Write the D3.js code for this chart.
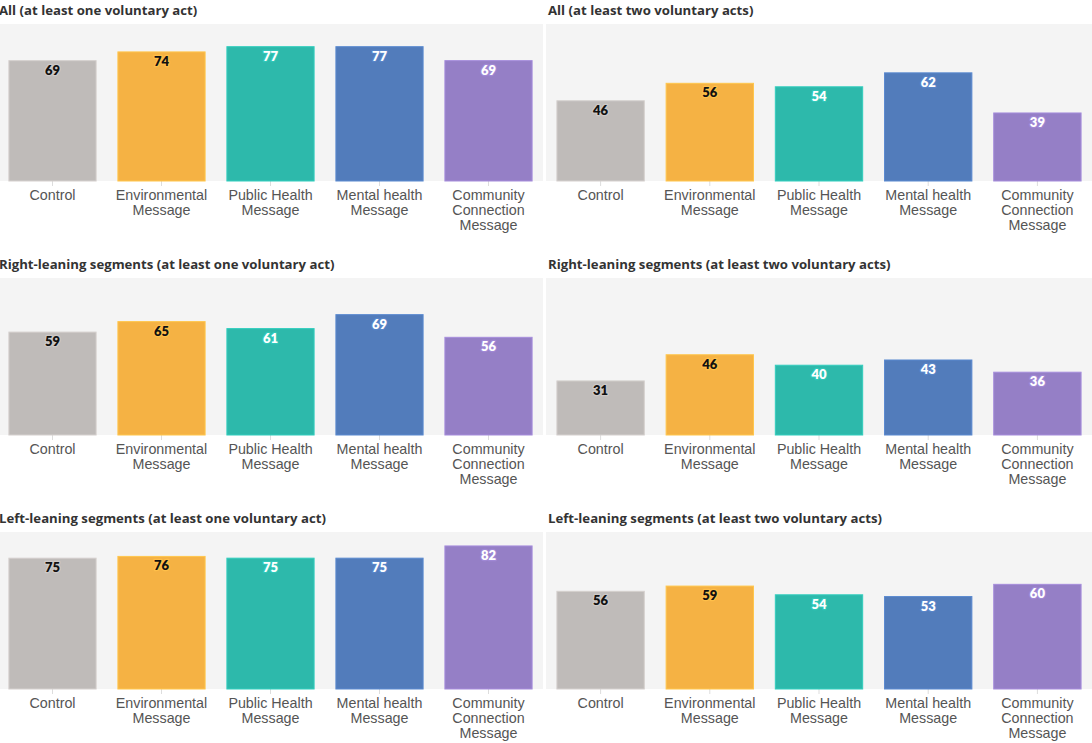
<!DOCTYPE html>
<html><head><meta charset="utf-8">
<script src="https://cdn.jsdelivr.net/npm/d3@7"></script>
<style>
body{margin:0;background:#fff;}
svg{display:block;font-family:Lato,"Open Sans",sans-serif;}
</style></head>
<body>
<svg id="chart" width="1092" height="743"></svg>
<script>
const categories = ["Control","Environmental Message","Public Health Message","Mental health Message","Community Connection Message"];
const categoryLines = [["Control"],["Environmental","Message"],["Public Health","Message"],["Mental health","Message"],["Community","Connection","Message"]];
const colors = ["#bfbbb9","#f5b244","#2db9ab","#527cbb","#957fc6"];
const labelColors = ["#111","#111","#fff","#fff","#fff"];

const titles = [
  "All (at least one voluntary act)",
  "All (at least two voluntary acts)",
  "Right-leaning segments (at least one voluntary act)",
  "Right-leaning segments (at least two voluntary acts)",
  "Left-leaning segments (at least one voluntary act)",
  "Left-leaning segments (at least two voluntary acts)"
];
const allOne = [69,74,77,77,69];
const allTwo = [46,56,54,62,39];
const rightOne = [59,65,61,69,56];
const rightTwo = [31,46,40,43,36];
const leftOne = [75,76,75,75,82];
const leftTwo = [56,59,54,53,60];
const seriesList = [allOne, allTwo, rightOne, rightTwo, leftOne, leftTwo];

const svg = d3.select("#chart");
const colRanges = [[-2,543],[546,1092]];
const rowTop = [24,278,532];
const plotH = 157;

seriesList.forEach((vals,i)=>{
  const col = i%2, row = Math.floor(i/2);
  const [x0,x1] = colRanges[col];
  const top = rowTop[row], base = top+plotH;
  const x = d3.scaleBand().domain(categories).range([x0,x1]).paddingInner(0.2).paddingOuter(0.1);
  const y = d3.scaleLinear().domain([0,90]).range([base, top]);
  const g = svg.append("g");
  g.append("rect").attr("x", Math.max(x0,0)).attr("y", top).attr("width", x1-Math.max(x0,0)).attr("height", plotH).attr("fill","#f4f4f4");
  g.append("text").attr("x", col===0? -1 : 548).attr("y", top-9)
    .attr("font-family","'Open Sans',sans-serif")
    .attr("font-size",13.2).attr("font-weight",700).attr("fill","#333").text(titles[i]);
  const ax = g.append("g").attr("transform",`translate(0,${base})`)
    .call(d3.axisBottom(x).tickSize(5).tickFormat(""));
  ax.select(".domain").remove();
  ax.selectAll(".tick line").attr("stroke","#ddd");
  ax.selectAll(".tick").each(function(d,k){
    const t = d3.select(this).append("text").attr("fill","#555").attr("font-size",14.3)
      .attr("text-anchor","middle");
    categoryLines[k].forEach((ln,j)=>{
      t.append("tspan").attr("x",0).attr("y",19+j*15).text(ln);
    });
  });
  g.selectAll("rect.bar").data(vals).join("rect").attr("class","bar")
    .attr("x",(d,k)=>x(categories[k])).attr("width",x.bandwidth())
    .attr("y",d=>y(d)).attr("height",d=>base-y(d))
    .attr("fill",(d,k)=>colors[k])
    .attr("stroke",(d,k)=>d3.color(colors[k]).brighter(0.3)).attr("stroke-width",1);
  g.selectAll("text.val").data(vals).join("text").attr("class","val")
    .attr("x",(d,k)=>x(categories[k])+x.bandwidth()/2).attr("y",d=>y(d)+14)
    .attr("text-anchor","middle").attr("font-size",13).attr("font-weight",800)
    .attr("fill",(d,k)=>labelColors[k])
    .attr("stroke",(d,k)=>d3.color(colors[k]).brighter(0.2)).attr("stroke-width",2.5)
    .attr("paint-order","stroke").attr("stroke-linejoin","round")
    .text(d=>d);
});
</script>
</body></html>
